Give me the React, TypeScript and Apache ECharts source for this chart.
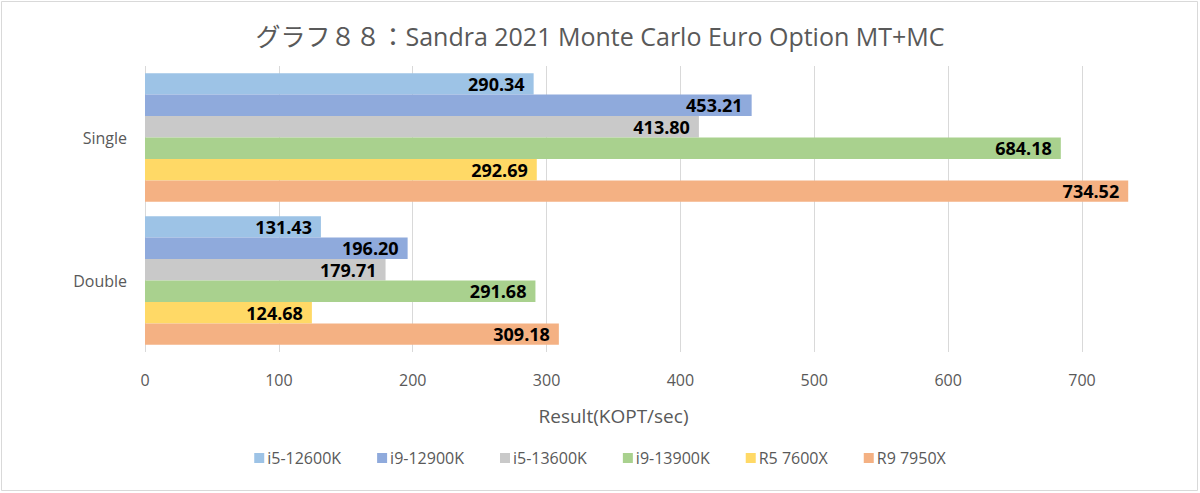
import React, { useEffect, useRef } from "react";
import * as echarts from "echarts";

const categories = ["Single", "Double"];
const seriesNames = ["i5-12600K", "i9-12900K", "i5-13600K", "i9-13900K", "R5 7600X", "R9 7950X"];
const singleValues = [290.34, 453.21, 413.8, 684.18, 292.69, 734.52];
const doubleValues = [131.43, 196.2, 179.71, 291.68, 124.68, 309.18];
const colors = ["#9DC3E6", "#8FAADC", "#C9C9C9", "#A9D18E", "#FFD966", "#F4B183"];
const xTicks = [0, 100, 200, 300, 400, 500, 600, 700];

const FONT = "'Open Sans', 'Noto Sans CJK JP', sans-serif";

export default function App() {
  const ref = useRef<HTMLDivElement>(null);
  useEffect(() => {
    document.body.style.margin = "0";
    const chart = echarts.init(ref.current!, null, { renderer: "svg" });
    chart.setOption({
      animation: false,
      backgroundColor: "#ffffff",
      textStyle: { fontFamily: FONT },
      title: {
        text: "グラフ８８：Sandra 2021 Monte Carlo Euro Option MT+MC",
        left: "center",
        top: 18,
        textStyle: { fontFamily: FONT, fontSize: 25, fontWeight: "normal", color: "#595959" },
      },
      graphic: [
        {
          type: "rect",
          shape: { x: 1.5, y: 1.5, width: 1196, height: 489 },
          style: { fill: "none", stroke: "#D9D9D9", lineWidth: 1 },
          silent: true,
        },
      ],
      legend: {
        bottom: 22,
        left: "center",
        itemWidth: 10,
        itemHeight: 10,
        itemGap: 36,
        icon: "rect",
        textStyle: { fontFamily: FONT, fontSize: 16, color: "#595959", padding: [0, 0, 0, -2] },
        data: seriesNames,
      },
      grid: { left: 145, right: 118, top: 66, bottom: 141, containLabel: false },
      xAxis: {
        type: "value",
        min: xTicks[0],
        max: xTicks[xTicks.length - 1],
        interval: 100,
        name: "Result(KOPT/sec)",
        nameLocation: "middle",
        nameGap: 54,
        nameTextStyle: { fontFamily: FONT, fontSize: 19, color: "#595959" },
        axisLine: { show: false },
        axisTick: { show: false },
        axisLabel: { fontFamily: FONT, fontSize: 16, color: "#595959", margin: 20 },
        splitLine: { show: true, lineStyle: { color: "#D9D9D9", width: 1 } },
      },
      yAxis: {
        type: "category",
        data: categories,
        inverse: true,
        axisLine: { show: false },
        axisTick: { show: false },
        axisLabel: { fontFamily: FONT, fontSize: 16, color: "#595959", margin: 18 },
      },
      series: seriesNames.map((name, i) => ({
        name,
        type: "bar",
        data: [singleValues[i], doubleValues[i]],
        itemStyle: { color: colors[i] },
        barGap: "0%",
        barCategoryGap: "10%",
        clip: false,
        label: {
          show: true,
          position: "insideRight",
          formatter: (p: any) => p.value.toFixed(2),
          fontFamily: FONT,
          fontSize: 18,
          fontWeight: "bold",
          color: "#000000",
          distance: 9,
        },
      })),
    });
    return () => chart.dispose();
  }, []);
  return <div ref={ref} style={{ width: 1200, height: 493 }} />;
}
